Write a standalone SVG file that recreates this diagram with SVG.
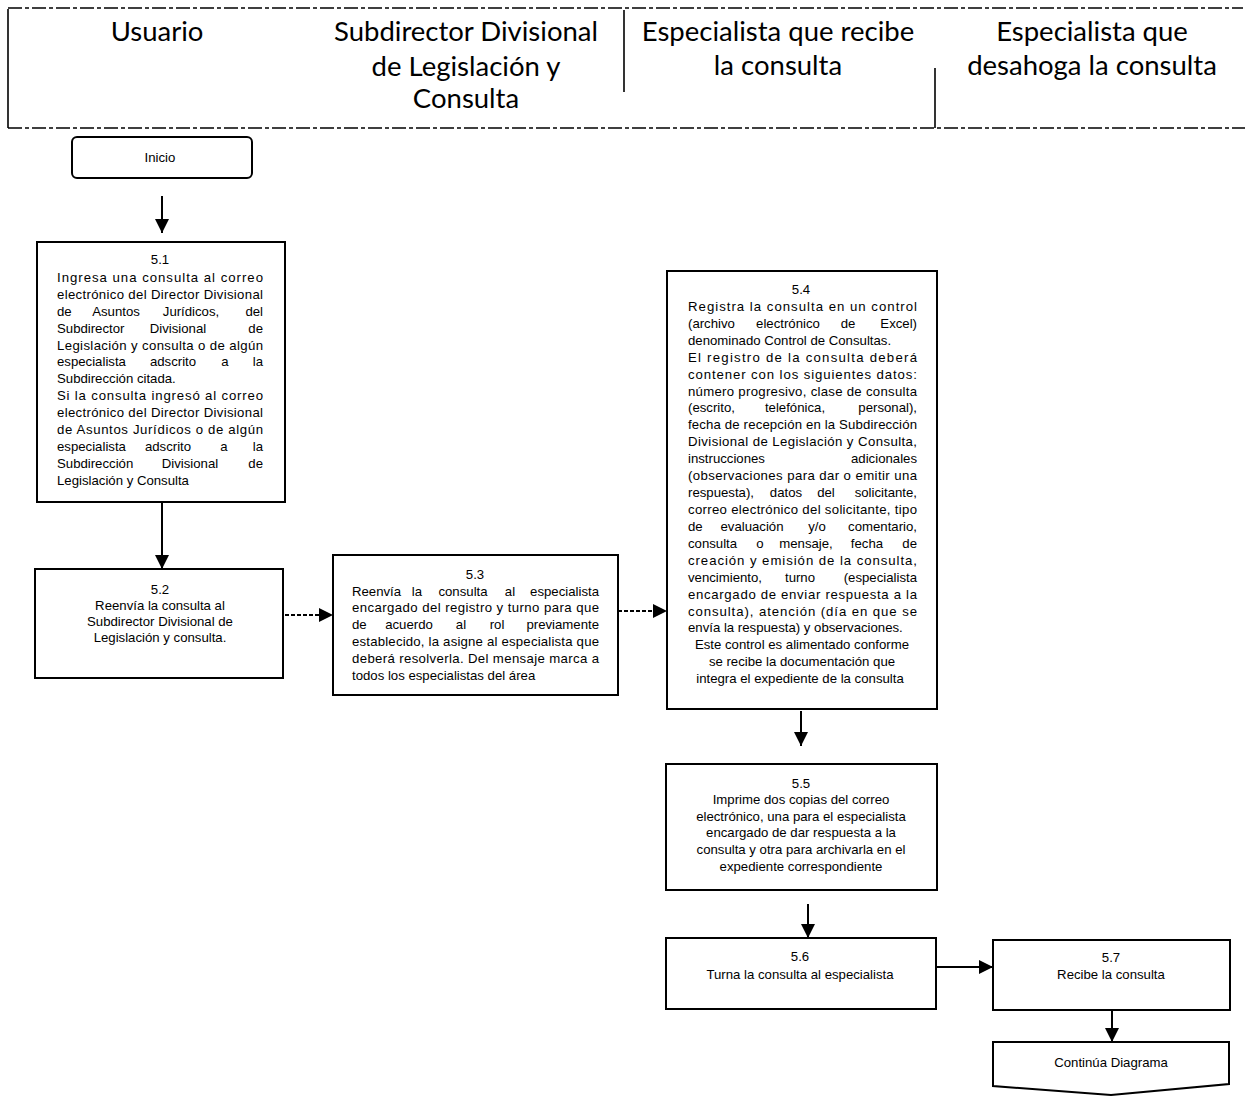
<svg xmlns="http://www.w3.org/2000/svg" width="1248" height="1097" viewBox="0 0 1248 1097">
  <defs>
    <marker id="arrow" markerUnits="userSpaceOnUse" markerWidth="14" markerHeight="14" refX="14" refY="7" orient="auto">
      <path d="M0,0 L14,7 L0,14 Z" fill="#000"/>
    </marker>
    <style>
      .lane { fill: none; stroke: #000; stroke-width: 1.6; }
      .lane-dash { fill: none; stroke: #000; stroke-width: 1.6; stroke-dasharray: 14 3 4 3; }
      .hd { font-family: Lato, "Liberation Sans", sans-serif; font-size: 27.5px; fill: #000; text-anchor: middle; }
      .box { fill: #fff; stroke: #000; stroke-width: 2; }
      .t { font-family: "Liberation Sans", Arial, sans-serif; font-size: 13.2px; fill: #000; }
      .c { text-anchor: middle; }
      .m { text-anchor: middle; }
      .e { text-anchor: end; }
      .conn { fill: none; stroke: #000; stroke-width: 2; }
      .dash { stroke-dasharray: 4 2; }
    </style>
  </defs>

  <!-- swimlane header -->
  <g id="lanes">
    <line class="lane-dash" x1="8" y1="8" x2="1243" y2="8"/>
    <line class="lane-dash" x1="8" y1="128" x2="1245" y2="128"/>
    <line class="lane" x1="8" y1="9" x2="8" y2="128"/>
    <line class="lane" x1="624" y1="10" x2="624" y2="92" stroke-width="2.5"/>
    <line class="lane" x1="935" y1="68" x2="935" y2="128"/>
    <text class="hd" x="157" y="41">Usuario</text>
    <text class="hd" x="466" y="41">Subdirector Divisional</text>
    <text class="hd" x="466" y="76">de Legislación y</text>
    <text class="hd" x="466" y="108">Consulta</text>
    <text class="hd" x="778" y="41">Especialista que recibe</text>
    <text class="hd" x="778" y="75">la consulta</text>
    <text class="hd" x="1092" y="41">Especialista que</text>
    <text class="hd" x="1092" y="75">desahoga la consulta</text>
  </g>

  <!-- connectors -->
  <g id="connectors">
    <path class="conn" d="M162,196 V233" marker-end="url(#arrow)"/>
    <path class="conn" d="M162,502 V569" marker-end="url(#arrow)"/>
    <path class="conn dash" d="M285,615 H333" marker-end="url(#arrow)"/>
    <path class="conn dash" d="M618,611 H667" marker-end="url(#arrow)"/>
    <path class="conn" d="M801,711 V746" marker-end="url(#arrow)"/>
    <path class="conn" d="M808,904 V938" marker-end="url(#arrow)"/>
    <path class="conn" d="M936,967 H993" marker-end="url(#arrow)"/>
    <path class="conn" d="M1112,1010 V1042" marker-end="url(#arrow)"/>
  </g>

  <!-- start -->
  <g id="inicio">
    <rect class="box" x="72" y="137" width="180" height="41" rx="5" stroke-width="1.6"/>
    <text class="t c" x="160" y="162" font-size="11.5">Inicio</text>
  </g>

  <!-- 5.1 -->
  <g id="n51">
    <rect class="box" x="37" y="242" width="248" height="260"/>
    <text class="t c" x="160" y="264">5.1</text>
    <text class="t" x="57" y="282" textLength="206" lengthAdjust="spacing">Ingresa una consulta al correo</text>
    <text class="t" x="57" y="299" textLength="206" lengthAdjust="spacing">electrónico del Director Divisional</text>
    <text class="t" y="316"><tspan x="57">de</tspan><tspan class="m" x="116">Asuntos</tspan><tspan class="m" x="191">Jurídicos,</tspan><tspan class="e" x="263">del</tspan></text>
    <text class="t" y="333"><tspan x="57">Subdirector</tspan><tspan class="m" x="178">Divisional</tspan><tspan class="e" x="263">de</tspan></text>
    <text class="t" x="57" y="350" textLength="206" lengthAdjust="spacing">Legislación y consulta o de algún</text>
    <text class="t" y="366"><tspan x="57">especialista</tspan><tspan class="m" x="173">adscrito</tspan><tspan class="m" x="225">a</tspan><tspan class="e" x="263">la</tspan></text>
    <text class="t" x="57" y="383">Subdirección citada.</text>
    <text class="t" x="57" y="400" textLength="206" lengthAdjust="spacing">Si la consulta ingresó al correo</text>
    <text class="t" x="57" y="417" textLength="206" lengthAdjust="spacing">electrónico del Director Divisional</text>
    <text class="t" x="57" y="434" textLength="206" lengthAdjust="spacing">de Asuntos Jurídicos o de algún</text>
    <text class="t" y="451"><tspan x="57">especialista</tspan><tspan class="m" x="168">adscrito</tspan><tspan class="m" x="224">a</tspan><tspan class="e" x="263">la</tspan></text>
    <text class="t" y="468"><tspan x="57">Subdirección</tspan><tspan class="m" x="190">Divisional</tspan><tspan class="e" x="263">de</tspan></text>
    <text class="t" x="57" y="485">Legislación y Consulta</text>
  </g>

  <!-- 5.2 -->
  <g id="n52">
    <rect class="box" x="35" y="569" width="248" height="109"/>
    <text class="t c" x="160" y="594">5.2</text>
    <text class="t c" x="160" y="610">Reenvía la consulta al</text>
    <text class="t c" x="160" y="626">Subdirector Divisional de</text>
    <text class="t c" x="160" y="642">Legislación y consulta.</text>
  </g>

  <!-- 5.3 -->
  <g id="n53">
    <rect class="box" x="333" y="555" width="285" height="140"/>
    <text class="t c" x="475" y="579">5.3</text>
    <text class="t" y="596"><tspan x="352">Reenvía</tspan><tspan class="m" x="417">la</tspan><tspan class="m" x="463">consulta</tspan><tspan class="m" x="510">al</tspan><tspan class="e" x="599">especialista</tspan></text>
    <text class="t" x="352" y="612" textLength="247" lengthAdjust="spacing">encargado del registro y turno para que</text>
    <text class="t" y="629"><tspan x="352">de</tspan><tspan class="m" x="409">acuerdo</tspan><tspan class="m" x="461">al</tspan><tspan class="m" x="497">rol</tspan><tspan class="e" x="599">previamente</tspan></text>
    <text class="t" x="352" y="646" textLength="247" lengthAdjust="spacing">establecido, la asigne al especialista que</text>
    <text class="t" x="352" y="663" textLength="247" lengthAdjust="spacing">deberá resolverla. Del mensaje marca a</text>
    <text class="t" x="352" y="680">todos los especialistas del área</text>
  </g>

  <!-- 5.4 -->
  <g id="n54">
    <rect class="box" x="667" y="271" width="270" height="438"/>
    <text class="t c" x="801" y="294">5.4</text>
    <text class="t" x="688" y="311" textLength="229" lengthAdjust="spacing">Registra la consulta en un control</text>
    <text class="t" y="328"><tspan x="688">(archivo</tspan><tspan class="m" x="788">electrónico</tspan><tspan class="m" x="848">de</tspan><tspan class="e" x="917">Excel)</tspan></text>
    <text class="t" x="688" y="345">denominado Control de Consultas.</text>
    <text class="t" x="688" y="362" textLength="229" lengthAdjust="spacing">El registro de la consulta deberá</text>
    <text class="t" x="688" y="379" textLength="229" lengthAdjust="spacing">contener con los siguientes datos:</text>
    <text class="t" x="688" y="396" textLength="229" lengthAdjust="spacing">número progresivo, clase de consulta</text>
    <text class="t" y="412"><tspan x="688">(escrito,</tspan><tspan class="m" x="795">telefónica,</tspan><tspan class="e" x="917">personal),</tspan></text>
    <text class="t" x="688" y="429" textLength="229" lengthAdjust="spacing">fecha de recepción en la Subdirección</text>
    <text class="t" x="688" y="446" textLength="229" lengthAdjust="spacing">Divisional de Legislación y Consulta,</text>
    <text class="t" y="463"><tspan x="688">instrucciones</tspan><tspan class="e" x="917">adicionales</tspan></text>
    <text class="t" x="688" y="480" textLength="229" lengthAdjust="spacing">(observaciones para dar o emitir una</text>
    <text class="t" y="497"><tspan x="688">respuesta),</tspan><tspan class="m" x="786">datos</tspan><tspan class="m" x="826">del</tspan><tspan class="e" x="917">solicitante,</tspan></text>
    <text class="t" x="688" y="514" textLength="229" lengthAdjust="spacing">correo electrónico del solicitante, tipo</text>
    <text class="t" y="531"><tspan x="688">de</tspan><tspan class="m" x="752">evaluación</tspan><tspan class="m" x="817">y/o</tspan><tspan class="e" x="917">comentario,</tspan></text>
    <text class="t" y="548"><tspan x="688">consulta</tspan><tspan class="m" x="760">o</tspan><tspan class="m" x="806">mensaje,</tspan><tspan class="m" x="867">fecha</tspan><tspan class="e" x="917">de</tspan></text>
    <text class="t" x="688" y="565" textLength="229" lengthAdjust="spacing">creación y emisión de la consulta,</text>
    <text class="t" y="582"><tspan x="688">vencimiento,</tspan><tspan class="m" x="800">turno</tspan><tspan class="e" x="917">(especialista</tspan></text>
    <text class="t" x="688" y="599" textLength="229" lengthAdjust="spacing">encargado de enviar respuesta a la</text>
    <text class="t" x="688" y="616" textLength="229" lengthAdjust="spacing">consulta), atención (día en que se</text>
    <text class="t" x="688" y="632">envía la respuesta) y observaciones.</text>
    <text class="t c" x="802" y="649">Este control es alimentado conforme</text>
    <text class="t c" x="802" y="666">se recibe la documentación que</text>
    <text class="t c" x="800" y="683">integra el expediente de la consulta</text>
  </g>

  <!-- 5.5 -->
  <g id="n55">
    <rect class="box" x="666" y="764" width="271" height="126"/>
    <text class="t c" x="801" y="788">5.5</text>
    <text class="t c" x="801" y="804">Imprime dos copias del correo</text>
    <text class="t c" x="801" y="821">electrónico, una para el especialista</text>
    <text class="t c" x="801" y="837">encargado de dar respuesta a la</text>
    <text class="t c" x="801" y="854">consulta y otra para archivarla en el</text>
    <text class="t c" x="801" y="871">expediente correspondiente</text>
  </g>

  <!-- 5.6 -->
  <g id="n56">
    <rect class="box" x="666" y="938" width="270" height="71"/>
    <text class="t c" x="800" y="961">5.6</text>
    <text class="t c" x="800" y="979">Turna la consulta al especialista</text>
  </g>

  <!-- 5.7 -->
  <g id="n57">
    <rect class="box" x="993" y="940" width="237" height="70"/>
    <text class="t c" x="1111" y="962">5.7</text>
    <text class="t c" x="1111" y="979">Recibe la consulta</text>
  </g>

  <!-- off-page connector -->
  <g id="continua">
    <path class="box" d="M993,1042 H1229 V1084 L1111,1095 L993,1086 Z"/>
    <text class="t c" x="1111" y="1067">Continúa Diagrama</text>
  </g>
</svg>
